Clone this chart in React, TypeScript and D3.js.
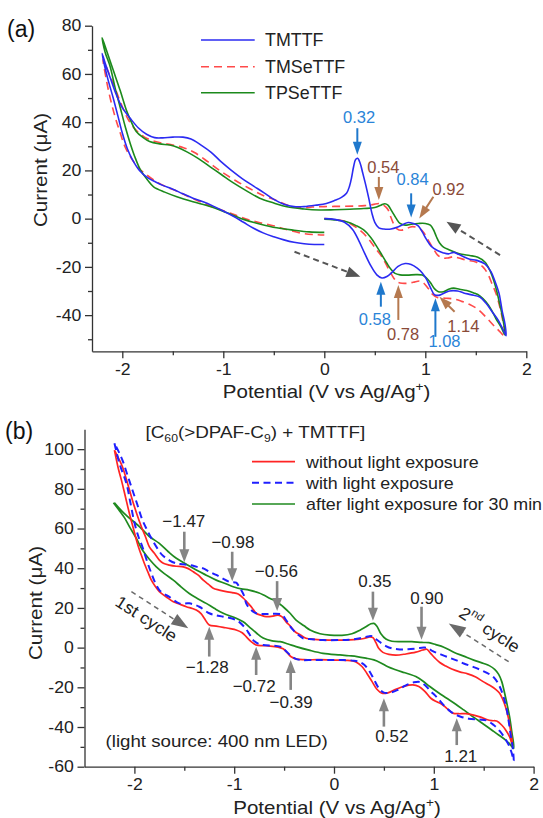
import React, { useEffect, useRef } from 'react';
import * as d3 from 'd3';

type Pt = [number, number];

// ---------- panel (a): potential (V), current (uA) ----------
const tmttf: Pt[] = [
  [0, 0], [0.1, -0.3], [0.2, -1.5], [0.28, -4.5], [0.34, -9], [0.4, -14.4], [0.46, -19.5], [0.52, -23.3],
  [0.57, -24.6], [0.62, -24], [0.67, -22.3], [0.73, -19.8], [0.8, -18.6], [0.86, -19], [0.92, -20.5],
  [0.97, -22.5], [1.01, -25], [1.05, -28.5], [1.09, -31.5], [1.13, -31.8], [1.18, -31], [1.24, -30],
  [1.32, -30], [1.38, -30.8], [1.45, -31.5], [1.54, -32.5], [1.6, -35], [1.66, -38.5], [1.72, -42],
  [1.77, -46], [1.8, -48.5],
  [1.79, -44], [1.76, -38], [1.73, -31], [1.69, -26], [1.65, -22], [1.59, -18.8], [1.51, -17.3],
  [1.44, -16.8], [1.38, -15.8], [1.33, -14.8], [1.28, -14], [1.23, -14.6], [1.18, -14.2], [1.12, -13.2],
  [1.06, -11.5], [1.01, -8.5], [0.97, -5.5], [0.93, -3], [0.88, -2], [0.83, -1.6], [0.78, -2.4],
  [0.72, -3.6], [0.66, -4.3], [0.59, -4.3], [0.54, -3.8], [0.5, -1.5], [0.47, 2.5], [0.44, 8.5],
  [0.41, 14], [0.38, 19], [0.355, 23], [0.33, 25], [0.31, 24.5], [0.29, 21.5], [0.27, 17], [0.25, 13.5],
  [0.22, 10.5], [0.17, 8.8], [0.1, 7.5], [0.02, 6.3], [-0.08, 5.6], [-0.2, 5], [-0.3, 5], [-0.4, 6],
  [-0.5, 8], [-0.6, 10.8], [-0.7, 13.5], [-0.81, 16.5], [-0.92, 20], [-1.02, 23.5], [-1.12, 27.5],
  [-1.22, 30.5], [-1.32, 33], [-1.4, 33.8], [-1.5, 33.8], [-1.6, 33.5], [-1.68, 33.6], [-1.76, 35],
  [-1.84, 37.6], [-1.92, 41.5], [-2.0, 46], [-2.06, 51.5], [-2.12, 58.5], [-2.17, 64.5], [-2.2, 68.5],
  [-2.15, 59], [-2.09, 50], [-2.04, 42], [-2.0, 35.5], [-1.95, 29], [-1.9, 24.5], [-1.83, 20],
  [-1.75, 17], [-1.67, 15.2], [-1.6, 13.8], [-1.5, 12.2], [-1.4, 10.3], [-1.3, 8.5], [-1.2, 7],
  [-1.1, 5.2], [-1.0, 3.2], [-0.9, 1], [-0.8, -1.5], [-0.7, -4], [-0.6, -6], [-0.5, -7.5], [-0.4, -8.8],
  [-0.3, -9.8], [-0.2, -10.4], [-0.1, -10.7], [0, -10.7],
];

const tmsettf: Pt[] = [
  [0, 0], [0.1, -0.3], [0.22, -1.3], [0.35, -4.7], [0.42, -7.5], [0.47, -10.2], [0.52, -13], [0.57, -15.8],
  [0.61, -18.8], [0.65, -22], [0.69, -24.8], [0.72, -26.2], [0.77, -26.8], [0.82, -26.8], [0.88, -26.4],
  [0.95, -25.9], [0.99, -27], [1.03, -29], [1.07, -31.3], [1.12, -32.7], [1.2, -33], [1.28, -33.3],
  [1.36, -34.3], [1.44, -35.6], [1.52, -37.6], [1.6, -40.8], [1.67, -44], [1.73, -46.5], [1.79, -48.8],
  [1.77, -43], [1.74, -37], [1.7, -31], [1.66, -27], [1.62, -23], [1.57, -20], [1.5, -18], [1.41, -17.2],
  [1.33, -16.3], [1.28, -15.8], [1.22, -16.3], [1.17, -16.3], [1.12, -15], [1.08, -12.5], [1.03, -9],
  [0.98, -5.5], [0.94, -4], [0.87, -3.3], [0.81, -4.2], [0.76, -4.8], [0.72, -4.2], [0.69, -2.5],
  [0.66, 0.5], [0.63, 3.8], [0.58, 5.8], [0.54, 6.3], [0.48, 5.8], [0.4, 5.4], [0.3, 5.2], [0.15, 5.1],
  [0, 5], [-0.12, 4.8], [-0.23, 4.5], [-0.35, 5.4], [-0.47, 7.5], [-0.6, 9.5], [-0.74, 12.5],
  [-0.88, 15.8], [-1.02, 19.5], [-1.15, 23.5], [-1.29, 27.5], [-1.4, 29.5], [-1.5, 30.5], [-1.6, 31.3],
  [-1.7, 32.3], [-1.78, 33.8], [-1.86, 36.5], [-1.94, 41], [-2.02, 48.5], [-2.08, 55], [-2.14, 61],
  [-2.19, 66],
  [-2.16, 58], [-2.12, 50], [-2.07, 42], [-2.02, 35.5], [-1.97, 29.5], [-1.91, 25], [-1.84, 21],
  [-1.77, 18.5], [-1.67, 15.5], [-1.57, 13.3], [-1.45, 11.2], [-1.3, 8.3], [-1.15, 5.6], [-1.02, 3.6],
  [-0.88, 1.5], [-0.74, -0.6], [-0.6, -2], [-0.47, -3.3], [-0.35, -4.8], [-0.23, -6], [-0.1, -6.6],
  [0, -6.8],
];

const tpsettf: Pt[] = [
  [0, -0.2], [0.1, -0.5], [0.22, -1.3], [0.32, -3], [0.39, -4.7], [0.46, -7.8], [0.52, -11.6], [0.57, -15],
  [0.62, -18.5], [0.66, -21], [0.7, -22.7], [0.75, -23.3], [0.82, -23.4], [0.91, -23.2], [0.97, -23.4],
  [1.01, -24.5], [1.05, -26.5], [1.09, -29], [1.13, -30.3], [1.18, -30.3], [1.23, -29.3], [1.28, -28.8],
  [1.34, -29.3], [1.41, -29.8], [1.48, -30.8], [1.54, -32], [1.6, -34.5], [1.65, -37.5], [1.7, -41.5],
  [1.75, -45], [1.79, -48.3],
  [1.77, -42], [1.74, -36], [1.71, -30.5], [1.68, -26], [1.64, -21.5], [1.59, -18], [1.52, -16],
  [1.44, -15.3], [1.36, -14.8], [1.3, -14], [1.24, -13], [1.18, -11.8], [1.14, -10], [1.11, -7.5],
  [1.08, -4.5], [1.05, -2.7], [1.0, -2], [0.93, -2], [0.86, -2.3], [0.8, -2.7], [0.75, -2], [0.71, 0.2],
  [0.67, 3], [0.63, 5.6], [0.6, 6.2], [0.56, 5.6], [0.5, 4.6], [0.39, 4.2], [0.25, 3.9], [0.1, 3.7],
  [-0.05, 3.6], [-0.2, 4], [-0.37, 4.9], [-0.5, 6.5], [-0.64, 8.5], [-0.77, 11.5], [-0.9, 14.8],
  [-1.02, 18.3], [-1.13, 21.5], [-1.25, 25], [-1.36, 27.7], [-1.45, 29.5], [-1.53, 30.5], [-1.63, 31],
  [-1.73, 32], [-1.8, 33.8], [-1.86, 36], [-1.91, 40], [-1.96, 45], [-2.02, 53], [-2.09, 61.6],
  [-2.15, 69], [-2.2, 75],
  [-2.17, 69], [-2.12, 63], [-2.07, 54], [-2.02, 46], [-1.97, 38], [-1.92, 31], [-1.87, 25],
  [-1.82, 20.2], [-1.75, 16], [-1.69, 13.2], [-1.58, 11], [-1.46, 9.1], [-1.3, 7], [-1.13, 5],
  [-0.97, 2.5], [-0.8, -0.3], [-0.64, -2.2], [-0.47, -3.8], [-0.3, -4.8], [-0.15, -5.5], [0, -5.7],
];

// ---------- panel (b) ----------
const noLight: Pt[] = [
  [-2.2, 99.5], [-2.16, 90], [-2.13, 84.4], [-2.09, 76], [-2.05, 67.6], [-2.01, 60], [-1.97, 52.5],
  [-1.93, 46.5], [-1.9, 42.4], [-1.86, 37.5], [-1.83, 34], [-1.79, 30.8], [-1.75, 28.2], [-1.68, 25.5],
  [-1.61, 23.1], [-1.54, 21.8], [-1.48, 20.6], [-1.42, 19.7], [-1.38, 18.9], [-1.33, 17], [-1.3, 14.8],
  [-1.25, 11.4], [-1.18, 10.8], [-1.11, 10.2], [-1.04, 9.6], [-0.98, 8.9], [-0.92, 7.5], [-0.88, 5.5],
  [-0.83, 3], [-0.78, 1.3], [-0.71, 1], [-0.64, 0.8], [-0.56, 0.2], [-0.51, -0.6], [-0.47, -2.5],
  [-0.43, -4.6], [-0.37, -5.8], [-0.3, -6.1], [-0.15, -6.1], [0, -6.3], [0.12, -6.4], [0.22, -7.2],
  [0.28, -9.5], [0.33, -13], [0.38, -17], [0.43, -21], [0.48, -23], [0.54, -22.8], [0.62, -21],
  [0.7, -19.5], [0.79, -18.8], [0.85, -19.6], [0.91, -22], [0.97, -25.5], [1.03, -27.3], [1.08, -28.5],
  [1.13, -30.6], [1.19, -33], [1.25, -33.3], [1.32, -33.3], [1.4, -34], [1.47, -35], [1.53, -36.2],
  [1.58, -36.8], [1.63, -37], [1.68, -39], [1.72, -41.5], [1.76, -45], [1.79, -49.5],
  [1.77, -42], [1.75, -36], [1.72, -30], [1.69, -26], [1.66, -23], [1.62, -21], [1.56, -19], [1.49, -17],
  [1.42, -14.8], [1.34, -13.2], [1.26, -12.2], [1.18, -10.8], [1.12, -9.3], [1.06, -7.5], [1.01, -5.2],
  [0.97, -3], [0.93, -0.8], [0.89, -1.2], [0.82, -2.3], [0.72, -3.2], [0.62, -3.8], [0.55, -3.4],
  [0.49, -2.4], [0.45, -0.5], [0.42, 2.5], [0.39, 5], [0.36, 5.4], [0.3, 4.6], [0.2, 4], [0.1, 3.8],
  [-0.05, 3.8], [-0.2, 4.2], [-0.28, 4.7], [-0.34, 6.5], [-0.39, 8], [-0.44, 11], [-0.48, 13],
  [-0.52, 15.5], [-0.56, 16.4], [-0.6, 16], [-0.68, 15.6], [-0.73, 16.3], [-0.78, 17.3], [-0.82, 20],
  [-0.86, 22.3], [-0.91, 25], [-0.96, 27], [-1.02, 27.7], [-1.08, 28.2], [-1.15, 29], [-1.21, 29.9],
  [-1.26, 32], [-1.31, 34], [-1.36, 36.5], [-1.41, 38.2], [-1.46, 39.8], [-1.51, 40.7], [-1.58, 41],
  [-1.65, 41.6], [-1.71, 42.5], [-1.75, 44.1], [-1.8, 47.5], [-1.85, 50.8], [-1.89, 56], [-1.93, 60.9],
  [-1.98, 68], [-2.02, 74.3], [-2.07, 83], [-2.12, 91.1], [-2.16, 95.5], [-2.2, 99.5],
];

const withLight: Pt[] = [
  [-2.2, 103], [-2.15, 92.8], [-2.08, 82.7], [-2.04, 73], [-2.0, 63], [-1.96, 56], [-1.92, 50.8],
  [-1.87, 43], [-1.83, 37.4], [-1.79, 32.5], [-1.75, 29], [-1.7, 27], [-1.65, 25.6], [-1.55, 22.3],
  [-1.45, 22.3], [-1.35, 20.6], [-1.25, 17.3], [-1.18, 16.3], [-1.11, 15.6], [-0.98, 13.9], [-0.9, 10.5],
  [-0.85, 7], [-0.81, 3.8], [-0.76, 2], [-0.71, 1.3], [-0.54, 0.5], [-0.49, -1.3], [-0.44, -3.7],
  [-0.39, -5.5], [-0.34, -6.2], [-0.2, -6.2], [-0.05, -6.3], [0.1, -6.3], [0.2, -6.6], [0.26, -7.3],
  [0.3, -8.5], [0.35, -11.5], [0.4, -16], [0.45, -20.5], [0.5, -22.7], [0.58, -22.5], [0.65, -21],
  [0.72, -19], [0.8, -17.5], [0.86, -17.3], [0.91, -18.8], [0.97, -22], [1.03, -25], [1.09, -28.5],
  [1.15, -31.5], [1.2, -33.3], [1.27, -34.8], [1.35, -35.8], [1.45, -36.2], [1.53, -36.7], [1.6, -39],
  [1.66, -42], [1.71, -45.5], [1.75, -49], [1.78, -53], [1.8, -57],
  [1.79, -50], [1.77, -44], [1.75, -37], [1.73, -31], [1.7, -25], [1.66, -19.6], [1.61, -15.5],
  [1.56, -13.5], [1.48, -11.5], [1.4, -9.8], [1.3, -8], [1.22, -6.3], [1.13, -4.6], [1.05, -3],
  [0.99, -1.8], [0.94, -0.2], [0.9, 0], [0.83, -0.4], [0.74, -0.8], [0.66, -0.9], [0.58, -0.4],
  [0.52, 0.8], [0.46, 2.8], [0.42, 4.3], [0.38, 5.8], [0.34, 5.6], [0.26, 4.7], [0.15, 4], [0.05, 3.8],
  [-0.11, 3.8], [-0.22, 4.2], [-0.31, 4.7], [-0.36, 6.5], [-0.41, 8.9], [-0.45, 11.5], [-0.48, 13.9],
  [-0.52, 16.5], [-0.54, 16.9], [-0.62, 17], [-0.71, 16.9], [-0.78, 17.3], [-0.81, 18.1], [-0.85, 20],
  [-0.88, 22.3], [-0.9, 26], [-0.93, 29], [-0.96, 31.5], [-0.98, 32.7], [-1.05, 33.2], [-1.12, 35],
  [-1.18, 36.6], [-1.25, 38.3], [-1.31, 39.9], [-1.38, 40.8], [-1.45, 41.6], [-1.52, 42], [-1.58, 42.4],
  [-1.65, 44], [-1.72, 46.6], [-1.77, 50], [-1.82, 54.2], [-1.87, 59], [-1.92, 64.3], [-1.97, 72],
  [-2.02, 79.4], [-2.07, 87], [-2.12, 94.5], [-2.16, 99], [-2.2, 103],
];

const afterLight: Pt[] = [
  [-2.21, 73], [-2.15, 69], [-2.1, 65.5], [-2.05, 61], [-1.98, 55], [-1.92, 49.2], [-1.85, 44.5],
  [-1.78, 40.7], [-1.7, 37.3], [-1.61, 34], [-1.53, 30.5], [-1.45, 27.3], [-1.37, 24.8], [-1.28, 22.3],
  [-1.2, 19.8], [-1.11, 17.3], [-0.98, 14.8], [-0.91, 13], [-0.85, 10.5], [-0.78, 7.5], [-0.71, 4.8],
  [-0.62, 3.4], [-0.54, 3], [-0.46, 1.8], [-0.38, 0.5], [-0.25, -1.3], [-0.11, -2.9], [0.06, -3.7],
  [0.15, -4.1], [0.23, -4.5], [0.32, -5.3], [0.4, -6.2], [0.47, -7.7], [0.54, -9.6], [0.61, -11],
  [0.68, -12.2], [0.75, -13.3], [0.82, -14.6], [0.89, -16.8], [0.96, -19.6], [1.04, -22.5], [1.13, -25.5],
  [1.22, -28.5], [1.3, -31.4], [1.37, -34], [1.44, -36.5], [1.51, -39], [1.58, -41.5], [1.65, -44],
  [1.72, -46.6], [1.76, -48.5], [1.8, -50.8],
  [1.78, -42], [1.76, -35], [1.74, -30], [1.71, -23], [1.68, -17], [1.65, -13.5], [1.61, -11],
  [1.56, -9.2], [1.5, -8], [1.4, -6.3], [1.3, -4.3], [1.2, -2.3], [1.1, 0.2], [1.02, 1.5], [0.95, 2.5],
  [0.88, 2.6], [0.78, 3], [0.68, 3], [0.58, 3.2], [0.52, 4.3], [0.47, 7], [0.43, 10.8], [0.4, 12.2],
  [0.37, 12], [0.32, 10.5], [0.26, 8.8], [0.18, 7], [0.08, 6.2], [-0.04, 6.3], [-0.14, 7], [-0.24, 8.9],
  [-0.3, 11], [-0.38, 13.9], [-0.44, 17.3], [-0.51, 20.6], [-0.57, 23], [-0.64, 24.8], [-0.75, 27.5],
  [-0.85, 29], [-0.93, 29.6], [-1.01, 30.7], [-1.09, 32.3], [-1.18, 34], [-1.28, 36.5], [-1.38, 39.1],
  [-1.48, 42], [-1.58, 45], [-1.66, 48.3], [-1.75, 52.5], [-1.85, 56], [-1.95, 61], [-2.1, 67.5],
  [-2.2, 73],
];

const xTicks = [-2, -1, 0, 1, 2];
const xMinor = [-1.5, -0.5, 0.5, 1.5];
const yTicksA = [-40, -20, 0, 20, 40, 60, 80];
const yMinorA = [-50, -30, -10, 10, 30, 50, 70];
const yTicksB = [-60, -40, -20, 0, 20, 40, 60, 80, 100];
const yMinorB = [-50, -30, -10, 10, 30, 50, 70, 90];

// annotations: label, label position, arrow tail, arrow tip (data coords)
const peaksA = [
  { t: '0.32', c: 'b', at: [0.344, 39.5], from: [0.327, 37.5], to: [0.327, 26.5] },
  { t: '0.54', c: 'r', at: [0.585, 18.8], from: [0.54, 17.3], to: [0.54, 7.7] },
  { t: '0.84', c: 'b', at: [0.875, 13.9], from: [0.86, 10.5], to: [0.86, 0.5] },
  { t: '0.92', c: 'r', at: [1.23, 9.8], from: [1.08, 9.1], to: [0.94, 0.1] },
  { t: '0.58', c: 'b', at: [0.5, -44.1], from: [0.56, -36.5], to: [0.56, -26.2] },
  { t: '0.78', c: 'r', at: [0.78, -50.4], from: [0.733, -42], to: [0.733, -27.5] },
  { t: '1.08', c: 'b', at: [1.19, -53.1], from: [1.1, -49], to: [1.1, -33] },
  { t: '1.14', c: 'r', at: [1.376, -46.9], from: [1.29, -38.6], to: [1.14, -32.4] },
];
const peaksB = [
  { t: '\u22121.47', at: [-1.505, 60.9], from: [-1.5, 58.4], to: [-1.5, 43] },
  { t: '\u22120.98', at: [-1.013, 50], from: [-1.02, 48.3], to: [-1.02, 33.5] },
  { t: '\u22120.56', at: [-0.578, 35.4], from: [-0.57, 33.5], to: [-0.57, 18.5] },
  { t: '0.35', at: [0.41, 30.7], from: [0.39, 28.2], to: [0.39, 13.5] },
  { t: '0.90', at: [0.93, 22], from: [0.877, 20.6], to: [0.877, 4] },
  { t: '\u22121.28', at: [-1.27, -12.6], from: [-1.25, -4.5], to: [-1.25, 10.5] },
  { t: '\u22120.72', at: [-0.8, -22.2], from: [-0.78, -13.8], to: [-0.78, 0.5] },
  { t: '\u22120.39', at: [-0.43, -30.6], from: [-0.434, -21.3], to: [-0.434, -6.3] },
  { t: '0.52', at: [0.58, -47.4], from: [0.5, -39.8], to: [0.5, -25.5] },
  { t: '1.21', at: [1.27, -57.5], from: [1.23, -49.1], to: [1.23, -35.6] },
];

const FONT = '"Liberation Sans", Arial, Helvetica, sans-serif';
const AX = '#333';

function App() {
  const ref = useRef<SVGSVGElement>(null);

  useEffect(() => {
    const svg = d3.select(ref.current);
    svg.selectAll('*').remove();

    const line = (x: any, y: any) =>
      d3.line<Pt>().x(d => x(d[0])).y(d => y(d[1])).curve(d3.curveCatmullRom.alpha(0.5));

    // text placed at (x,y), slightly widened like the source figure
    const label = (g: any, x: number, y: number, size: number, sx = 1, rot = 0) =>
      g.append('text')
        .attr('transform', `translate(${x},${y})${rot ? ` rotate(${rot})` : ''} scale(${sx},1)`)
        .attr('font-family', FONT).attr('font-size', size).attr('fill', '#222');

    function arrow(g: any, x1: number, y1: number, x2: number, y2: number, color: string,
      w: number, hl: number, hw: number, dash?: string) {
      const dx = x2 - x1, dy = y2 - y1, len = Math.hypot(dx, dy);
      const ux = dx / len, uy = dy / len;
      const bx = x2 - ux * hl, by = y2 - uy * hl;
      g.append('line').attr('x1', x1).attr('y1', y1).attr('x2', bx + ux).attr('y2', by + uy)
        .attr('stroke', color).attr('stroke-width', w).attr('stroke-dasharray', dash || null);
      g.append('path')
        .attr('d', `M${x2},${y2}L${bx - uy * hw},${by + ux * hw}L${bx + uy * hw},${by - ux * hw}Z`)
        .attr('fill', color);
    }

    function axes(g: any, x: any, y: any, yMajor: number[], yMin: number[], xBase: number, yBase: number) {
      const fmt = (d: any) => String(d);
      const gy = g.append('g').attr('transform', `translate(${xBase},0)`)
        .call(d3.axisLeft(y).tickValues(yMajor).tickSize(7).tickPadding(3).tickSizeOuter(0).tickFormat(fmt));
      const gym = g.append('g').attr('transform', `translate(${xBase},0)`)
        .call(d3.axisLeft(y).tickValues(yMin).tickSize(4).tickSizeOuter(0).tickFormat(() => ''));
      const gx = g.append('g').attr('transform', `translate(0,${yBase})`)
        .call(d3.axisBottom(x).tickValues(xTicks).tickSize(7).tickPadding(5).tickSizeOuter(0).tickFormat(fmt));
      const gxm = g.append('g').attr('transform', `translate(0,${yBase})`)
        .call(d3.axisBottom(x).tickValues(xMinor).tickSize(4).tickSizeOuter(0).tickFormat(() => ''));
      gym.select('.domain').remove();
      gxm.select('.domain').remove();
      [gy, gym, gx, gxm].forEach(a => {
        a.selectAll('path,line').attr('stroke', AX).attr('stroke-width', 1.3);
        a.selectAll('text').attr('font-family', FONT).attr('font-size', 16.5).attr('fill', '#222')
          .attr('transform', 'scale(1.07,1)');
      });
    }

    function xTitle(g: any, cx: number, by: number) {
      const t = label(g, cx, by, 18, 1.14).attr('text-anchor', 'middle');
      t.append('tspan').text('Potential (V vs Ag/Ag');
      t.append('tspan').text('+').attr('font-size', 12).attr('dy', -7);
      t.append('tspan').text(')').attr('dy', 7);
    }
    function yTitle(g: any, bx: number, cy: number) {
      label(g, bx, cy, 18, 1.15, -90).attr('text-anchor', 'middle').text('Current (\u03bcA)');
    }

    // ================= panel (a) =================
    const xa = d3.scaleLinear().domain([-2.3, 2]).range([92, 526.3]);
    const ya = d3.scaleLinear().domain([-55, 80]).range([351.3, 25.7]);
    const ga = svg.append('g');
    axes(ga, xa, ya, yTicksA, yMinorA, 92, 351.3);
    xTitle(ga, 326.6, 398);
    yTitle(ga, 47, 170);
    label(ga, 7, 37, 23).attr('fill', '#111').text('(a)');

    const la = line(xa, ya);
    const seriesA = [
      { d: tmttf, c: '#2b2bf2', dash: null, name: 'TMTTF' },
      { d: tmsettf, c: '#ff4a4a', dash: '8,5', name: 'TMSeTTF' },
      { d: tpsettf, c: '#1c8a1c', dash: null, name: 'TPSeTTF' },
    ];
    [seriesA[1], seriesA[2], seriesA[0]].forEach(s => {
      ga.append('path').attr('d', la(s.d)).attr('fill', 'none').attr('stroke', s.c)
        .attr('stroke-width', 1.6).attr('stroke-dasharray', s.dash);
    });
    const legYA = [40, 66.7, 92.7];
    seriesA.forEach((s, i) => {
      ga.append('line').attr('x1', 201).attr('x2', 254.7).attr('y1', legYA[i]).attr('y2', legYA[i])
        .attr('stroke', s.c).attr('stroke-width', 1.6).attr('stroke-dasharray', s.dash);
      label(ga, 265, legYA[i] + 6.3, 17.5, 1.02).text(s.name);
    });

    const colA: any = { b: ['#1f78cc', '#2a84d8'], r: ['#b5794f', '#8a4a38'] };
    peaksA.forEach(p => {
      const [ac, tc] = colA[p.c];
      arrow(ga, xa(p.from[0]), ya(p.from[1]), xa(p.to[0]), ya(p.to[1]), ac, 2, 13, 4.5);
      label(ga, xa(p.at[0]), ya(p.at[1]), 16.5).attr('text-anchor', 'middle').attr('fill', tc).text(p.t);
    });
    arrow(ga, xa(-0.295), ya(-13.7), xa(0.357), ya(-24.1), '#555', 2, 14, 5.5, '6,4');
    arrow(ga, xa(1.74), ya(-15.1), xa(1.21), ya(-1.3), '#555', 2, 14, 5.5, '6,4');

    // ================= panel (b) =================
    const xb = d3.scaleLinear().domain([-2.5, 2]).range([84.5, 533.6]);
    const yb = d3.scaleLinear().domain([-60, 110]).range([766.7, 429.3]);
    const gb = svg.append('g');
    axes(gb, xb, yb, yTicksB, yMinorB, 84.5, 766.7);
    xTitle(gb, 337, 814);
    yTitle(gb, 41.5, 603);
    label(gb, 5, 439, 23).attr('fill', '#111').text('(b)');

    const tb = label(gb, 145.5, 438, 17, 1.11);
    tb.append('tspan').text('[C');
    tb.append('tspan').text('60').attr('font-size', 11).attr('dy', 4);
    tb.append('tspan').text('(>DPAF-C').attr('dy', -4);
    tb.append('tspan').text('9').attr('font-size', 11).attr('dy', 4);
    tb.append('tspan').text(')  + TMTTF]').attr('dy', -4);

    const lb = line(xb, yb);
    const seriesB = [
      { d: noLight, c: '#ff2424', dash: null, w: 1.7, name: 'without light exposure' },
      { d: withLight, c: '#1f1fff', dash: '7,4.5', w: 2, name: 'with light exposure' },
      { d: afterLight, c: '#1f8a1f', dash: null, w: 1.7, name: 'after light exposure for 30 min' },
    ];
    [seriesB[2], seriesB[0], seriesB[1]].forEach(s => {
      gb.append('path').attr('d', lb(s.d)).attr('fill', 'none').attr('stroke', s.c)
        .attr('stroke-width', s.w).attr('stroke-dasharray', s.dash);
    });
    const legYB = [461.7, 482.7, 504];
    seriesB.forEach((s, i) => {
      gb.append('line').attr('x1', 252).attr('x2', 295).attr('y1', legYB[i]).attr('y2', legYB[i])
        .attr('stroke', s.c).attr('stroke-width', s.w).attr('stroke-dasharray', s.dash);
      label(gb, 306, legYB[i] + 5.8, 17, 1.05).text(s.name);
    });

    peaksB.forEach(p => {
      arrow(gb, xb(p.from[0]), yb(p.from[1]), xb(p.to[0]), yb(p.to[1]), '#858585', 2.6, 13, 5);
      label(gb, xb(p.at[0]), yb(p.at[1]), 17).attr('text-anchor', 'middle').text(p.t);
    });

    arrow(gb, xb(-2.03), yb(28.2), xb(-1.46), yb(9.7), '#6a6a6a', 1.5, 17, 6, '5,4');
    arrow(gb, xb(1.75), yb(-7.1), xb(1.15), yb(12.2), '#6a6a6a', 1.5, 17, 6, '5,4');
    label(gb, xb(-1.88), yb(14.5), 17, 1.05, 33)
      .attr('text-anchor', 'middle').attr('dominant-baseline', 'central').text('1st cycle');
    const c2 = label(gb, xb(1.56), yb(9), 17, 1.05, 33)
      .attr('text-anchor', 'middle').attr('dominant-baseline', 'central');
    c2.append('tspan').text('2');
    c2.append('tspan').text('nd').attr('font-size', 11).attr('dy', -6);
    c2.append('tspan').text(' cycle').attr('dy', 6);

    label(gb, 105.5, 746.7, 17, 1.1).text('(light source: 400 nm LED)');
  }, []);

  return (
    <svg ref={ref} width={543} height={818}
      style={{ position: 'absolute', left: 0, top: 0, background: '#fff' }} />
  );
}

export default App;
